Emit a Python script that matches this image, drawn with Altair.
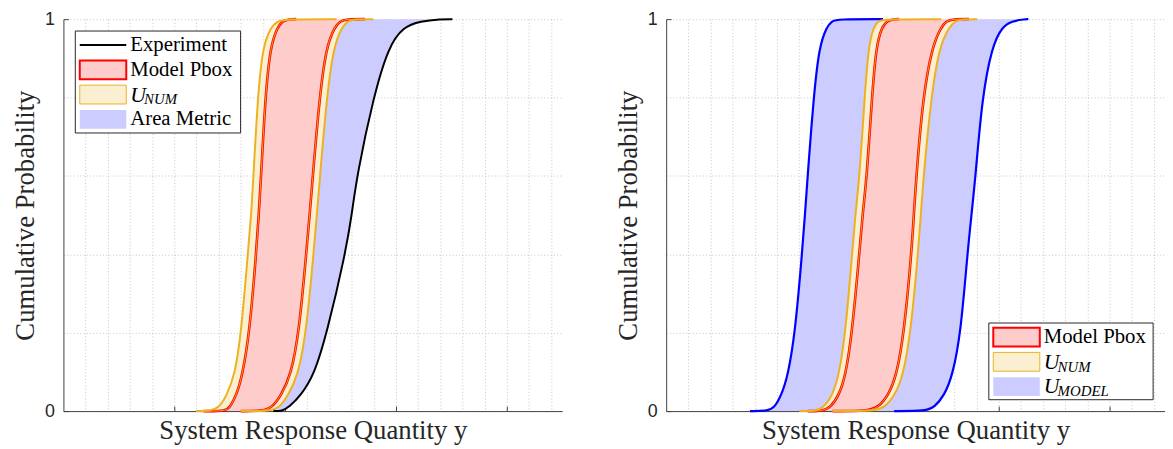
import altair as alt
import pandas as pd

SERIF = "Liberation Serif"
SANS = "Liberation Sans"
INK = "#262626"

# cumulative probability levels at which every curve was read
P = [0, 0.01, 0.04, 0.09, 0.2, 0.4, 0.5, 0.6, 0.8, 0.93, 0.98, 0.995, 1]

# ---------- left panel (x of each curve at the levels in P) ----------
L_EXPERIMENT = [1.973, 2.036, 2.14, 2.259, 2.378, 2.542, 2.601, 2.647, 2.795, 2.933, 3.063, 3.223, 3.402]
L_UNUM_LO = [1.321, 1.411, 1.471, 1.545, 1.604, 1.663, 1.694, 1.714, 1.753, 1.797, 1.872, 1.931, 2.006]
L_PBOX_LO = [1.471, 1.5, 1.56, 1.613, 1.679, 1.738, 1.762, 1.783, 1.821, 1.866, 1.931, 1.976, 2.036]
L_PBOX_HI = [1.797, 1.887, 1.962, 2.051, 2.125, 2.19, 2.221, 2.25, 2.31, 2.372, 2.446, 2.497, 2.556]
L_UNUM_HI = [1.872, 1.953, 2.027, 2.116, 2.19, 2.256, 2.286, 2.315, 2.375, 2.438, 2.512, 2.565, 2.631]
# flat ends of each curve: [x where it starts at 0, x where it stops at 1]
L_EXPERIMENT_ENDS = [1.893, 3.509]
L_UNUM_LO_ENDS = [1.196, 2.464]
L_PBOX_LO_ENDS = [1.263, 2.1]
L_PBOX_HI_ENDS = [1.6, 2.72]
L_UNUM_HI_ENDS = [1.6, 2.795]

# ---------- right panel ----------
R_MODEL_LO = [0.92, 0.979, 1.038, 1.098, 1.163, 1.225, 1.252, 1.276, 1.33, 1.38, 1.448, 1.493, 1.544]
R_UNUM_LO = [1.35, 1.424, 1.499, 1.558, 1.618, 1.677, 1.706, 1.745, 1.79, 1.825, 1.87, 1.912, 1.959]
R_PBOX_LO = [1.41, 1.484, 1.558, 1.618, 1.677, 1.742, 1.771, 1.811, 1.856, 1.894, 1.945, 1.992, 2.048]
R_PBOX_HI = [1.825, 1.914, 2.004, 2.078, 2.146, 2.212, 2.234, 2.257, 2.316, 2.399, 2.48, 2.527, 2.583]
R_UNUM_HI = [1.885, 1.974, 2.063, 2.137, 2.206, 2.271, 2.297, 2.322, 2.39, 2.464, 2.553, 2.607, 2.672]
R_MODEL_HI = [2.346, 2.42, 2.509, 2.583, 2.658, 2.717, 2.754, 2.791, 2.85, 2.939, 3.029, 3.118, 3.237]
R_MODEL_LO_ENDS = [0.756, 1.956]
R_UNUM_LO_ENDS = [1.201, 2.48]
R_PBOX_LO_ENDS = [1.276, 2.1]
R_PBOX_HI_ENDS = [1.5, 2.732]
R_UNUM_HI_ENDS = [1.5, 2.806]
R_MODEL_HI_ENDS = [2.057, 3.267]

X_TICKS = [1, 2, 3, 4]
X_GRID = [0.2, 0.4, 0.6, 0.8, 1, 1.2, 1.4, 1.6, 1.8, 2, 2.2, 2.4, 2.6, 2.8, 3,
          3.2, 3.4, 3.6, 3.8, 4, 4.2, 4.4]
Y_GRID = [0, 0.2, 0.4, 0.6, 0.8, 1]
Y_LABELS = [0, 1]

LEFT_LEGEND_LABELS = ["Experiment", "Model Pbox", "U", "Area Metric"]
LEFT_LEGEND_SUBS = ["", "", "NUM", ""]
LEFT_LEGEND_KINDS = ["line", "pbox", "unum", "blue"]
RIGHT_LEGEND_LABELS = ["Model Pbox", "U", "U"]
RIGHT_LEGEND_SUBS = ["", "NUM", "MODEL"]
RIGHT_LEGEND_KINDS = ["pbox", "unum", "blue"]

W, H = 504, 396

RED = "#FF0000"
ORANGE = "#EDB120"
BLUE = "#0000FF"
PINK = "#FFCCCC"
CREAM = "#FBEFD2"
LAVENDER = "#CCCCFF"

X_SCALE = alt.Scale(domain=[0, 4.5], nice=False, zero=False)
Y_SCALE = alt.Scale(domain=[0, 1], nice=False, zero=False)
GRID_STYLE = dict(gridColor="#c4c4c4", gridDash=[1, 2.3], gridWidth=1, gridOpacity=1)


def curve_df(name, xs, ends):
    rows = [{"curve": name, "seq": 0, "x": ends[0], "p": 0.0}]
    for i, (x, p) in enumerate(zip(xs, P)):
        rows.append({"curve": name, "seq": i + 1, "x": x, "p": p})
    rows.append({"curve": name, "seq": len(xs) + 1, "x": ends[1], "p": 1.0})
    return pd.DataFrame(rows)


def band_df(pairs):
    frames = []
    for name, lo, hi in pairs:
        frames.append(pd.DataFrame({"band": name, "p": P, "lo": lo, "hi": hi}))
    return pd.concat(frames, ignore_index=True)


def main_x_axis():
    return alt.Axis(orient="bottom", values=X_GRID, labels=False, ticks=False, grid=True,
                    domainColor="#404040", domainWidth=1,
                    title="System Response Quantity y", titleFont=SERIF, titleFontSize=27,
                    titleFontWeight="normal", titleColor=INK, titlePadding=7, **GRID_STYLE)


def main_y_axis():
    return alt.Axis(orient="left", values=Y_GRID, ticks=False, grid=True,
                    labelExpr="datum.value == 0 ? '0' : (datum.value == 1 ? '1' : '')",
                    labelFont=SANS, labelFontSize=18, labelColor=INK, labelPadding=9,
                    domainColor="#404040", domainWidth=1,
                    title="Cumulative Probability", titleFont=SERIF, titleFontSize=27,
                    titleFontWeight="normal", titleColor=INK, titlePadding=5, **GRID_STYLE)


def band_layer(df, color, axes=False):
    return alt.Chart(df).mark_area(orient="horizontal", interpolate="basis", color=color,
                                   opacity=1).encode(
        x=alt.X("lo:Q", scale=X_SCALE, stack=None, axis=main_x_axis() if axes else None),
        x2="hi:Q",
        y=alt.Y("p:Q", scale=Y_SCALE, axis=main_y_axis() if axes else None),
        detail="band:N",
    )


def line_layer(df, color, width):
    return alt.Chart(df).mark_line(interpolate="basis", color=color, strokeWidth=width).encode(
        x=alt.X("x:Q", scale=X_SCALE, axis=None),
        y=alt.Y("p:Q", scale=Y_SCALE, axis=None),
        detail="curve:N",
        order="seq:Q",
    )


def ticks_layer():
    df = pd.DataFrame({"t": X_TICKS, "v": [0] * len(X_TICKS)})
    return alt.Chart(df).mark_point(opacity=0).encode(
        x=alt.X("t:Q", scale=X_SCALE,
                axis=alt.Axis(orient="top", offset=-H, values=X_TICKS, labels=False,
                              domain=False, grid=False, ticks=True, tickSize=5,
                              tickColor="#404040", title=None)),
        y=alt.Y("v:Q", scale=Y_SCALE,
                axis=alt.Axis(orient="right", offset=-W, values=Y_LABELS, labels=False,
                              domain=False, grid=False, ticks=True, tickSize=5,
                              tickColor="#404040", title=None)),
    )


SWATCH = {
    "pbox": dict(fill=PINK, stroke=RED, strokeWidth=2),
    "unum": dict(fill=CREAM, stroke=ORANGE, strokeWidth=1),
    "blue": dict(fill=LAVENDER, strokeWidth=0),
}


def legend_layers(labels, subs, kinds, x0, y0, w, h):
    sw0 = x0 + 4.5
    sw1 = sw0 + 47
    tx = sw1 + 4
    layers = [alt.Chart(pd.DataFrame({"k": [0]})).mark_rect(
        fill="white", stroke=INK, strokeWidth=1).encode(
        x=alt.value(x0), x2=alt.value(x0 + w), y=alt.value(y0), y2=alt.value(y0 + h))]
    for i, (label, sub, kind) in enumerate(zip(labels, subs, kinds)):
        cy = y0 + 14.2 + 25 * i
        one = alt.Chart(pd.DataFrame({"label": [label], "sub": [sub]}))
        if kind == "line":
            layers.append(one.mark_rule(color="black", strokeWidth=2).encode(
                x=alt.value(sw0), x2=alt.value(sw1), y=alt.value(cy)))
        else:
            layers.append(one.mark_rect(**SWATCH[kind]).encode(
                x=alt.value(sw0), x2=alt.value(sw1),
                y=alt.value(cy - 9.5), y2=alt.value(cy + 9.5)))
        if sub:
            layers.append(one.mark_text(align="left", baseline="middle", font=SERIF,
                                        fontSize=22, fontStyle="italic", color="black").encode(
                x=alt.value(tx), y=alt.value(cy), text="label:N"))
            layers.append(one.mark_text(align="left", baseline="middle", font=SERIF,
                                        fontSize=15, fontStyle="italic", color="black").encode(
                x=alt.value(tx + 14), y=alt.value(cy + 5), text="sub:N"))
        else:
            layers.append(one.mark_text(align="left", baseline="middle", font=SERIF,
                                        fontSize=21, color="black").encode(
                x=alt.value(tx), y=alt.value(cy), text="label:N"))
    return layers


# ---------------- left panel ----------------
left_layers = [
    band_layer(band_df([("area", L_UNUM_HI, L_EXPERIMENT)]), LAVENDER, axes=True),
    band_layer(band_df([("pbox", L_PBOX_LO, L_PBOX_HI)]), PINK),
    band_layer(band_df([("unum_lo", L_UNUM_LO, L_PBOX_LO),
                        ("unum_hi", L_PBOX_HI, L_UNUM_HI)]), CREAM),
    line_layer(curve_df("exp", L_EXPERIMENT, L_EXPERIMENT_ENDS), "black", 2),
    line_layer(pd.concat([curve_df("plo", L_PBOX_LO, L_PBOX_LO_ENDS),
                          curve_df("phi", L_PBOX_HI, L_PBOX_HI_ENDS)]), RED, 2.6),
    line_layer(pd.concat([curve_df("ulo", L_UNUM_LO, L_UNUM_LO_ENDS),
                          curve_df("uhi", L_UNUM_HI, L_UNUM_HI_ENDS)]), ORANGE, 2),
    line_layer(pd.concat([curve_df("plo", L_PBOX_LO, L_PBOX_LO_ENDS),
                          curve_df("phi", L_PBOX_HI, L_PBOX_HI_ENDS)]), ORANGE, 0.9),
    ticks_layer(),
] + legend_layers(LEFT_LEGEND_LABELS, LEFT_LEGEND_SUBS, LEFT_LEGEND_KINDS, 12, 12, 167, 103)

left = alt.layer(*left_layers).resolve_axis(x="independent", y="independent").properties(
    width=W, height=H)

# ---------------- right panel ----------------
right_layers = [
    band_layer(band_df([("mlo", R_MODEL_LO, R_UNUM_LO),
                        ("mhi", R_UNUM_HI, R_MODEL_HI)]), LAVENDER, axes=True),
    band_layer(band_df([("pbox", R_PBOX_LO, R_PBOX_HI)]), PINK),
    band_layer(band_df([("unum_lo", R_UNUM_LO, R_PBOX_LO),
                        ("unum_hi", R_PBOX_HI, R_UNUM_HI)]), CREAM),
    line_layer(pd.concat([curve_df("mlo", R_MODEL_LO, R_MODEL_LO_ENDS),
                          curve_df("mhi", R_MODEL_HI, R_MODEL_HI_ENDS)]), BLUE, 2.2),
    line_layer(pd.concat([curve_df("plo", R_PBOX_LO, R_PBOX_LO_ENDS),
                          curve_df("phi", R_PBOX_HI, R_PBOX_HI_ENDS)]), RED, 2.6),
    line_layer(pd.concat([curve_df("ulo", R_UNUM_LO, R_UNUM_LO_ENDS),
                          curve_df("uhi", R_UNUM_HI, R_UNUM_HI_ENDS)]), ORANGE, 2),
    line_layer(pd.concat([curve_df("plo", R_PBOX_LO, R_PBOX_LO_ENDS),
                          curve_df("phi", R_PBOX_HI, R_PBOX_HI_ENDS)]), ORANGE, 0.9),
    ticks_layer(),
] + legend_layers(RIGHT_LEGEND_LABELS, RIGHT_LEGEND_SUBS, RIGHT_LEGEND_KINDS, 326, 307, 166, 77.5)

right = alt.layer(*right_layers).resolve_axis(x="independent", y="independent").properties(
    width=W, height=H)

chart = alt.hconcat(left, right, spacing=52).configure_view(stroke=None).properties(
    padding={"left": 3, "top": 0, "right": 0, "bottom": 0}, background="white")

chart.save("out.html", embed_options={"renderer": "svg", "actions": False})
